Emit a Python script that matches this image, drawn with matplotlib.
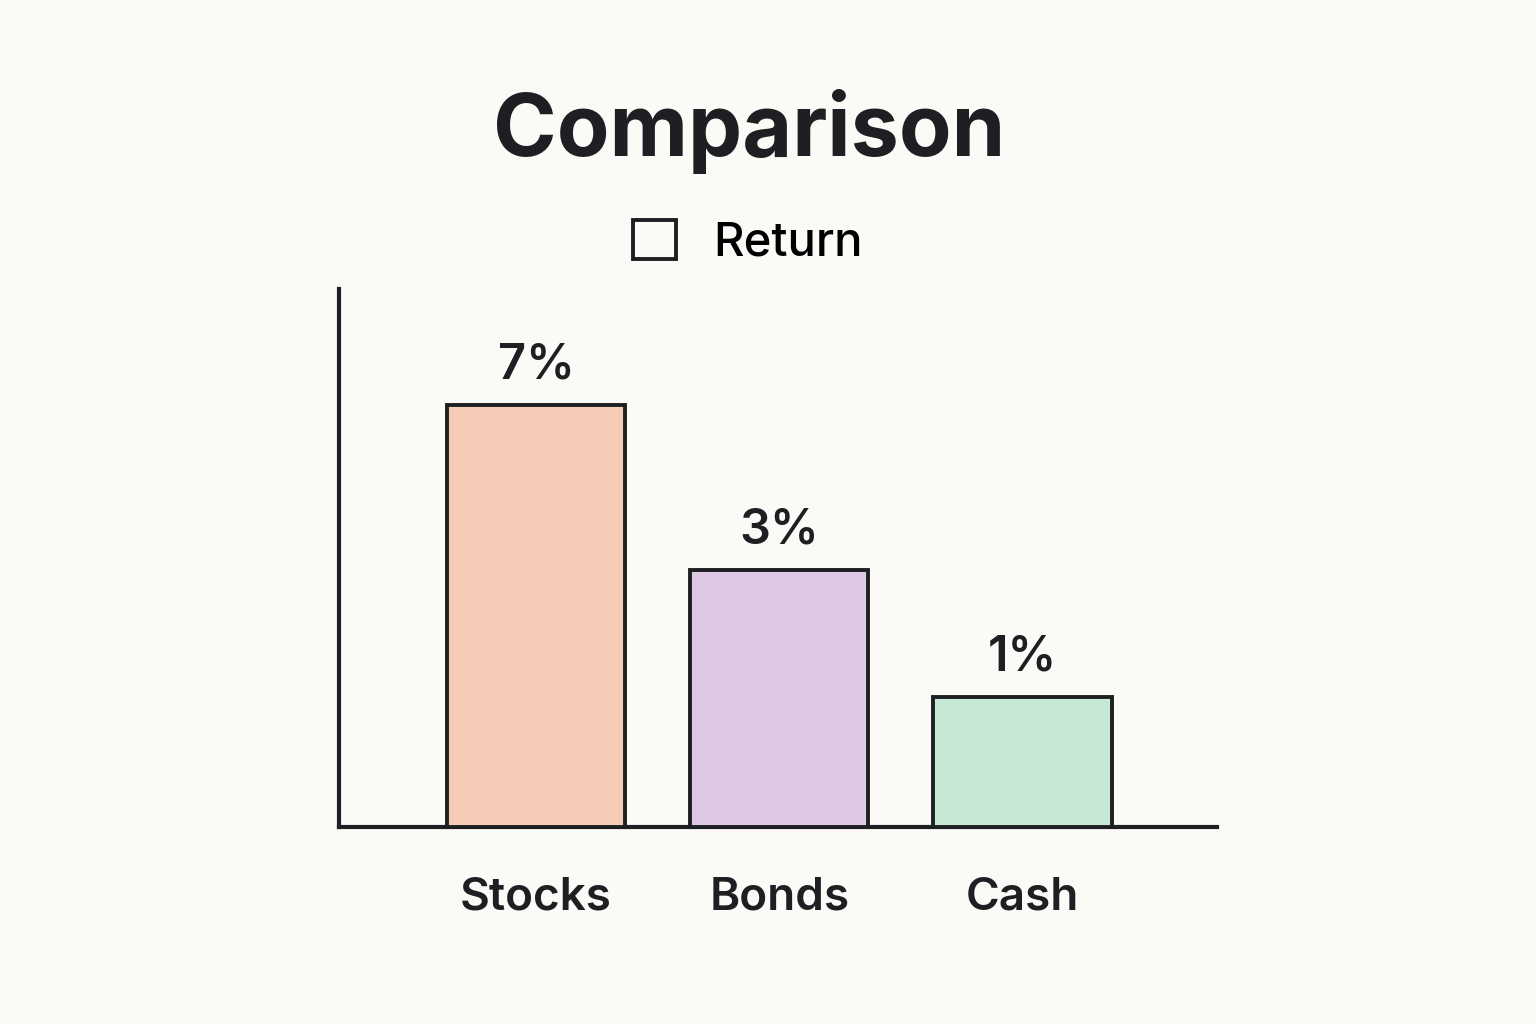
import matplotlib
matplotlib.use("Agg")
import matplotlib.pyplot as plt
from matplotlib.patches import Patch

categories = ["Stocks", "Bonds", "Cash"]
returns = [7, 3, 1]
bar_heights = [7.0, 4.26, 2.16]   # visual heights as drawn in the reference
colors = ["#F6CBB5", "#DFC8E3", "#C8E8D6"]
bg = "#FBFAF7"
ink = "#1E1F22"

plt.rcParams['font.family'] = ['Inter', 'DejaVu Sans']
fig = plt.figure(figsize=(15.36, 10.24), dpi=100, facecolor=bg)
ax = fig.add_axes([0.2207, 0.1924, 0.5716, 0.5254], facecolor=bg)

x = range(len(categories))
ax.bar(x, bar_heights, width=0.733, color=colors, edgecolor=ink, linewidth=2.8, zorder=3)
for xi, h, r in zip(x, bar_heights, returns):
    ax.text(xi, h + 0.27, f"{r}%", ha="center", va="bottom", fontsize=35, color=ink, fontweight="semibold")

ax.set_xlim(-0.81, 2.80)
ax.set_ylim(0, 8.92)
ax.set_xticks(list(x))
ax.set_xticklabels(categories, fontsize=33, color=ink, fontweight="semibold")
ax.tick_params(axis="x", length=0, pad=36)
ax.set_yticks([])
for s in ["top", "right"]:
    ax.spines[s].set_visible(False)
for s in ["left", "bottom"]:
    ax.spines[s].set_linewidth(3.0)
    ax.spines[s].set_color(ink)

fig.text(0.488, 0.872, "Comparison", ha="center", va="center", fontsize=62, fontweight="bold", color=ink)
fig.legend(handles=[Patch(facecolor="none", edgecolor=ink, linewidth=2.8, label="Return")],
           loc="center", bbox_to_anchor=(0.487, 0.763), frameon=False, fontsize=34,
           handlelength=0.9, handleheight=0.9, handletextpad=0.8,
           prop={'weight': 'medium', 'size': 34})

fig.savefig("out.png", dpi=100, facecolor=bg)
